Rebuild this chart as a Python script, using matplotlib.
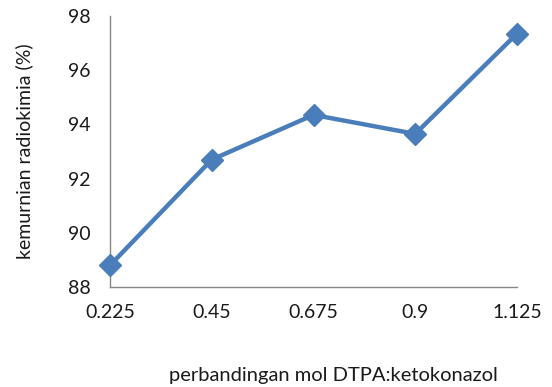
import matplotlib
matplotlib.use("Agg")
import matplotlib.pyplot as plt

categories = ["0.225", "0.45", "0.675", "0.9", "1.125"]
purity = [88.8, 92.7, 94.35, 93.65, 97.35]
y_ticks = [88, 90, 92, 94, 96, 98]

plt.rcParams['font.family'] = ['Lato', 'DejaVu Sans']

fig = plt.figure(figsize=(5.52, 3.87), dpi=100)
ax = fig.add_axes([110/552, 1 - 287/387, (517-110)/552, (287-16)/387])

x = list(range(len(categories)))
ax.plot(x, purity, color="#4a7ebb", linewidth=3.2, marker="D", markersize=11,
        solid_joinstyle="round", clip_on=False, zorder=3)

ax.set_xlim(0, len(categories) - 1)
ax.set_ylim(88, 98)
ax.set_xticks(x)
ax.set_xticklabels(categories)
ax.set_yticks(y_ticks)
ax.set_yticklabels([str(v) for v in y_ticks])

for side in ("top", "right"):
    ax.spines[side].set_visible(False)
for side in ("left", "bottom"):
    ax.spines[side].set_color("#868686")
    ax.spines[side].set_linewidth(1.0)

ax.tick_params(axis="both", length=0, labelsize=14, colors="#1a1a1a")
ax.tick_params(axis="x", pad=12)
ax.tick_params(axis="y", pad=14)

ax.set_ylabel("kemurnian radiokimia (%)", fontsize=14, color="#1a1a1a")
ax.yaxis.set_label_coords(-0.189, 0.5)
ax.set_xlabel("perbandingan mol DTPA:ketokonazol", fontsize=14.5, color="#1a1a1a")
ax.xaxis.set_label_coords(0.549, -0.295)

fig.savefig("out.png", dpi=100)
